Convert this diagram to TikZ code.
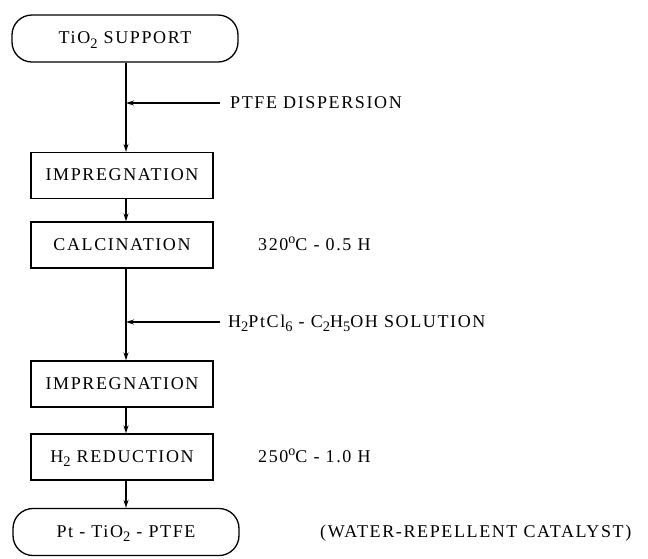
\documentclass[tikz,border=0pt]{standalone}
\usepackage{fontspec}
\setmainfont{Liberation Serif}[LetterSpace=9]
\usetikzlibrary{arrows.meta}
% typewriter-style lowered index and raised degree mark
\newcommand\lowidx[1]{\raisebox{-0.55ex}{\fontsize{14.5}{16}\selectfont #1}}
\newcommand\degmark{\raisebox{0.8ex}{\fontsize{14}{16}\selectfont o}}
\tikzset{
  flow/.style={line width=1.3pt, -{Stealth[length=8pt,width=5pt]}},
  stepbox/.style={draw, line width=1.3pt, minimum width=182pt, minimum height=46pt, inner sep=0pt, text height=12pt, text depth=2pt, font=\fontsize{18}{21}\selectfont},
  term/.style={draw, line width=1.3pt, rounded corners=20pt, minimum width=226pt, minimum height=47pt, inner sep=0pt, text height=12pt, text depth=2pt, font=\fontsize{18}{21}\selectfont},
  note/.style={anchor=west, inner sep=0pt, text height=12pt, text depth=2pt, font=\fontsize{18}{21}\selectfont},
}
\begin{document}
\begin{tikzpicture}[x=1pt, y=-1pt]
  \useasboundingbox (0,0) rectangle (648,558);

  % main chain
  \node[term]    (src)  at (125,38.5)  {TiO\lowidx{2} SUPPORT};
  \node[stepbox] (imp1) at (122,175.5) {IMPREGNATION};
  \node[stepbox] (calc) at (122,245)   {CALCINATION};
  \node[stepbox] (imp2) at (122,384)   {IMPREGNATION};
  \node[stepbox] (red)  at (122,457)   {H\lowidx{2} REDUCTION};
  \node[term]    (prod) at (126,532)   {Pt - TiO\lowidx{2} - PTFE};

  % side feeds and annotations
  \node[note] (ptfe) at (230,103) {PTFE DISPERSION};
  \node[note] (sol)  at (228,322) {H\lowidx{2}PtCl\lowidx{6} - C\lowidx{2}H\lowidx{5}OH SOLUTION};
  \node[note] (t1)   at (258,245) {320\degmark C - 0.5 H};
  \node[note] (t2)   at (258,457) {250\degmark C - 1.0 H};
  \node[note] (t3)   at (320,532) {(WATER-REPELLENT CATALYST)};

  \coordinate (j1) at (126,103);
  \coordinate (j2) at (126,322);
  \coordinate (f1) at (220,103);
  \coordinate (f2) at (220,322);

  % vertical flow
  \draw[flow] (src.south -| j1) -- (imp1.north -| j1);
  \draw[flow] (imp1.south -| j1) -- (calc.north -| j1);
  \draw[flow] (calc.south -| j1) -- (imp2.north -| j1);
  \draw[flow] (imp2.south -| j1) -- (red.north -| j1);
  \draw[flow] (red.south -| j1) -- (prod.north -| j1);

  % feed arrows
  \draw[flow] (f1) -- (j1);
  \draw[flow] (f2) -- (j2);
\end{tikzpicture}
\end{document}
